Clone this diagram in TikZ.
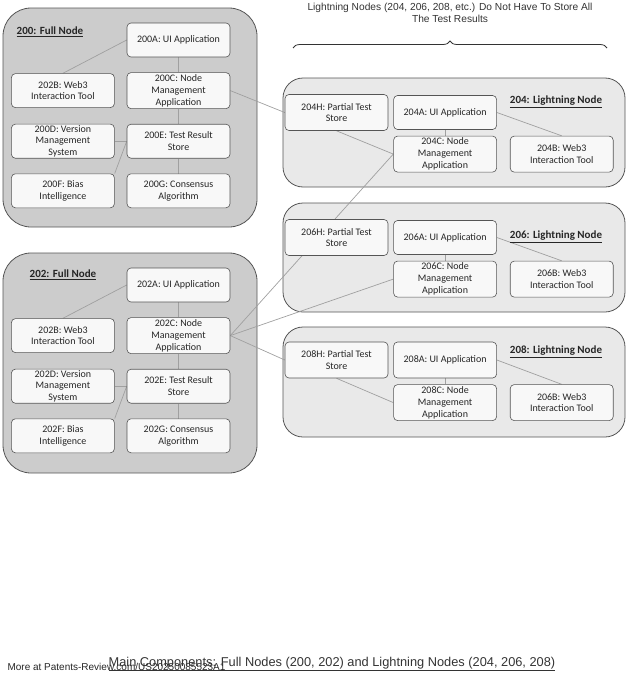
\documentclass[tikz,border=0pt]{standalone}
\usepackage{fontspec}
\setmainfont{Carlito}
\newfontfamily\headfont{Liberation Sans}
\usepackage{tikz}
\usetikzlibrary{positioning, decorations.pathreplacing}
\definecolor{fullgray}{RGB}{204,204,204}
\definecolor{lightninggray}{RGB}{233,233,233}
\definecolor{partfill}{RGB}{248,248,248}
\definecolor{edgegray}{RGB}{85,85,85}
\definecolor{linkgray}{RGB}{160,160,160}
\pgfdeclarelayer{back}
\pgfdeclarelayer{mid}
\pgfsetlayers{back,mid,main}

\begin{document}
\begin{tikzpicture}[x=1pt, y=-1pt,
	fullnode/.style={draw=edgegray, fill=fullgray, rounded corners=28pt, line width=0.8pt},
	lightnode/.style={draw=edgegray, fill=lightninggray, rounded corners=20pt, line width=0.8pt},
	part/.style={draw=edgegray, fill=partfill, rounded corners=4pt, line width=0.6pt,
		minimum width=103pt, minimum height=34pt, inner sep=1pt, align=center,
		font=\fontsize{10}{11.8}\selectfont, text=black!85},
	tall/.style={minimum height=36pt},
	title/.style={font=\fontsize{11}{13}\selectfont\bfseries, text=black!85},
	link/.style={draw=linkgray, line width=0.7pt}]

	\useasboundingbox (0,0) rectangle (627,680);

	\begin{pgfonlayer}{back}
		\node[fullnode, minimum width=254pt, minimum height=219pt] (n200) at (130,117.5) {};
		\node[fullnode, minimum width=254pt, minimum height=220pt] (n202) at (130,363) {};
		\node[lightnode, minimum width=342pt, minimum height=109pt] (n204) at (454,132.5) {};
		\node[lightnode, minimum width=342pt, minimum height=109pt] (n206) at (454,257.5) {};
		\node[lightnode, minimum width=342pt, minimum height=110pt] (n208) at (454,382) {};
	\end{pgfonlayer}

	\node[title] (t200) at (50,32) {\underline{200: Full Node}};
	\node[part] (n200a) at (178.5,40) {200A: UI Application};
	\node[part, tall, below=15pt of n200a] (n200c) {200C: Node\\Management\\Application};
	\node[part, left=12pt of n200c] (n200b) {202B: Web3\\Interaction Tool};
	\node[part, below=15pt of n200c] (n200e) {200E: Test Result\\Store};
	\node[part, left=12pt of n200e] (n200d) {200D: Version\\Management\\System};
	\node[part, below=15pt of n200e] (n200g) {200G: Consensus\\Algorithm};
	\node[part, left=12pt of n200g] (n200f) {200F: Bias\\Intelligence};

	\node[title] (t202) at (63,275) {\underline{202: Full Node}};
	\node[part] (n202a) at (178.5,285) {202A: UI Application};
	\node[part, tall, below=15pt of n202a] (n202c) {202C: Node\\Management\\Application};
	\node[part, left=12pt of n202c] (n202b) {202B: Web3\\Interaction Tool};
	\node[part, below=15pt of n202c] (n202e) {202E: Test Result\\Store};
	\node[part, left=12pt of n202e] (n202d) {202D: Version\\Management\\System};
	\node[part, below=15pt of n202e] (n202g) {202G: Consensus\\Algorithm};
	\node[part, left=12pt of n202g] (n202f) {202F: Bias\\Intelligence};

	\node[title] (t204) at (556,102) {\underline{204: Lightning Node}};
	\node[part, tall] (n204h) at (336.5,112.5) {204H: Partial Test\\Store};
	\node[part, right=5pt of n204h] (n204a) {204A: UI Application};
	\node[part, tall, below=6pt of n204a] (n204c) {204C: Node\\Management\\Application};
	\node[part, tall, right=13pt of n204c] (n204b) {204B: Web3\\Interaction Tool};

	\node[title] (t206) at (556,237) {\underline{206: Lightning Node}};
	\node[part, tall] (n206h) at (336.5,237.5) {206H: Partial Test\\Store};
	\node[part, right=5pt of n206h] (n206a) {206A: UI Application};
	\node[part, tall, below=6pt of n206a] (n206c) {206C: Node\\Management\\Application};
	\node[part, tall, right=13pt of n206c] (n206b) {206B: Web3\\Interaction Tool};

	\node[title] (t208) at (556,352) {\underline{208: Lightning Node}};
	\node[part, tall] (n208h) at (336.5,360) {208H: Partial Test\\Store};
	\node[part, tall, right=5pt of n208h] (n208a) {208A: UI Application};
	\node[part, tall, below=6pt of n208a] (n208c) {208C: Node\\Management\\Application};
	\node[part, tall, right=13pt of n208c] (n208b) {206B: Web3\\Interaction Tool};

	\begin{pgfonlayer}{mid}
		\draw[link] (n200a.west) -- (n200b.north);
		\draw[link] (n200a) -- (n200c);
		\draw[link] (n200c) -- (n200e);
		\draw[link] (n200e) -- (n200g);
		\draw[link] (n200d.east) -- (n200e.west);
		\draw[link] (n200f.north east) -- (n200e.west);
		\draw[link] (n202a.west) -- (n202b.north);
		\draw[link] (n202a) -- (n202c);
		\draw[link] (n202c) -- (n202e);
		\draw[link] (n202e) -- (n202g);
		\draw[link] (n202d.east) -- (n202e.west);
		\draw[link] (n202f.north east) -- (n202e.west);
		\draw[link] (n200c.east) -- (n204h.west);
		\draw[link] (n202c.east) -- (n204c.west);
		\draw[link] (n202c.east) -- (n206c.west);
		\draw[link] (n202c.east) -- (n208h.west);
		\draw[link] (n204h.south) -- (n204c.west);
		\draw[link] (n204a) -- (n204c);
		\draw[link] (n204a.east) -- (n204b.north);
		\draw[link] (n206a) -- (n206c);
		\draw[link] (n206a.east) -- (n206b.north);
		\draw[link] (n208h.south) -- (n208c.west);
		\draw[link] (n208a) -- (n208c);
		\draw[link] (n208a.east) -- (n208b.north);
	\end{pgfonlayer}

	\coordinate (braceleft) at (293,48);
	\coordinate (braceright) at (607,48);
	\draw[black!80, line width=0.8pt, decorate, decoration={brace, amplitude=7pt}] (braceleft) -- (braceright);
	\node[align=center, font=\headfont\fontsize{10.2}{11.5}\selectfont, text=black!80] (heading) at (450,13)
		{Lightning Nodes (204, 206, 208, etc.) Do Not Have To Store All\\The Test Results};

	\node[anchor=west, font=\headfont\fontsize{10}{12}\selectfont, text=black!85] (source) at (4,667)
		{More at Patents-Review.com/US20250085523A1};
	\node[font=\headfont\fontsize{12.8}{15}\selectfont, text=black!80] (caption) at (332,664)
		{\underline{Main Components: Full Nodes (200, 202) and Lightning Nodes (204, 206, 208)}};
\end{tikzpicture}
\end{document}
